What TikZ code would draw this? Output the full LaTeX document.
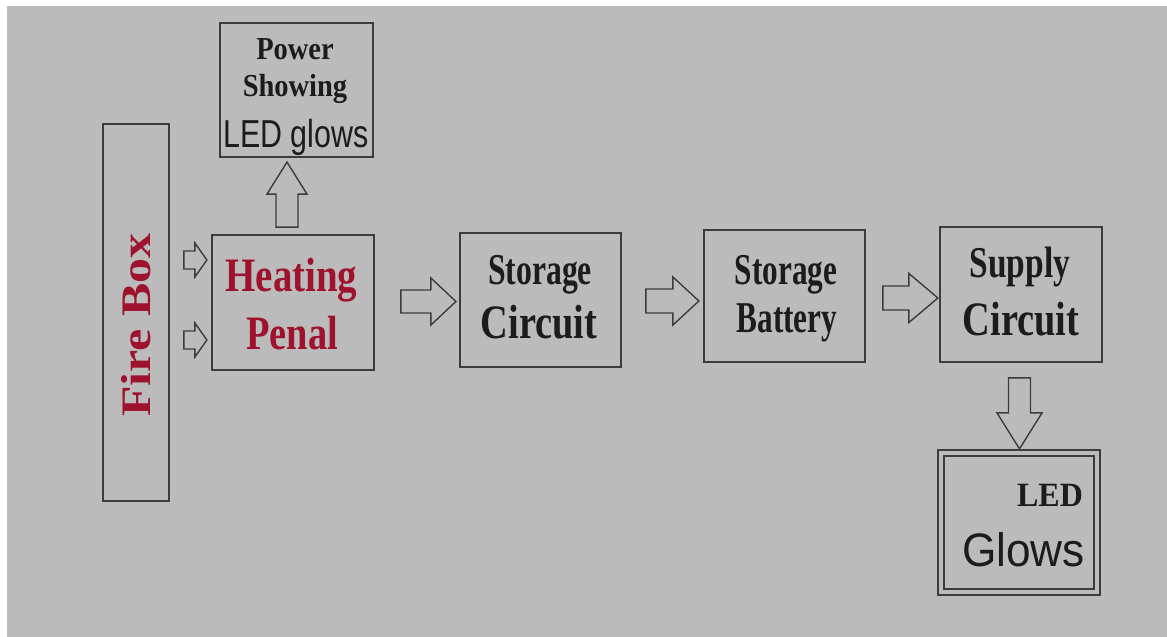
\documentclass[tikz,border=0pt]{standalone}
\usepackage{fontspec}
\setmainfont{Liberation Serif}
\newfontfamily\sansf{Liberation Sans}
\usepackage{graphicx}
\usetikzlibrary{calc}
\definecolor{bgc}{RGB}{187,187,187}
\definecolor{edge}{RGB}{60,60,60}
\definecolor{ink}{RGB}{28,28,28}
\definecolor{firered}{RGB}{158,18,45}
\newcommand{\fs}[1]{\fontsize{#1}{#1}\selectfont}
\newcommand{\sx}[2]{\scalebox{#1}[1]{#2}}
\tikzset{
  box/.style={draw=edge, line width=1.8pt, inner sep=0pt, fill=none},
  txt/.style={anchor=base, inner sep=0pt, text=ink, font=\bfseries},
  redtxt/.style={anchor=base, inner sep=0pt, text=firered, font=\bfseries},
  blk/.style={draw=edge, line width=1.4pt, line join=miter, fill=none},
}
\begin{document}
\begin{tikzpicture}[x=1pt,y=1pt]
\useasboundingbox (0,0) rectangle (1167,637);
\fill[bgc] (7,0) rectangle (1167,631);

% boxes
\node[box, minimum width=66pt, minimum height=377pt] (fire) at (136,324.5) {};
\node[box, minimum width=153pt, minimum height=134pt] (power) at (296.5,547) {};
\node[box, minimum width=162pt, minimum height=135pt] (heat) at (293,334.5) {};
\node[box, minimum width=161pt, minimum height=134pt] (stc) at (540.5,337) {};
\node[box, minimum width=161pt, minimum height=132pt] (stb) at (784.5,341) {};
\node[box, minimum width=162pt, minimum height=135pt] (sup) at (1021,342.5) {};
\node[box, minimum width=162pt, minimum height=145pt] (led) at (1019,114.5) {};
\node[draw=edge, line width=1.4pt, inner sep=0pt, minimum width=150pt, minimum height=133pt] (ledin) at (led.center) {};

% texts
\node[redtxt, anchor=center, rotate=90] (tfire) at (136,312) {\fs{42}\sx{1.19}{Fire Box}};
\node[txt] (tpow1) at (295,577) {\fs{32}\sx{0.89}{Power}};
\node[txt] (tpow2) at (295,540) {\fs{32}\sx{0.89}{Showing}};
\node[txt, font=\sansf] (tpow3) at (296,489) {\fs{39}\sx{0.78}{LED glows}};
\node[redtxt] (theat1) at (291.5,345) {\fs{48}\sx{0.81}{Heating}};
\node[redtxt] (theat2) at (292,287) {\fs{48}\sx{0.80}{Penal}};
\node[txt] (tstc1) at (540,352) {\fs{44}\sx{0.72}{Storage}};
\node[txt] (tstc2) at (539,298) {\fs{48}\sx{0.80}{Circuit}};
\node[txt] (tstb1) at (786,352) {\fs{44}\sx{0.71}{Storage}};
\node[txt] (tstb2) at (787,304) {\fs{44}\sx{0.71}{Battery}};
\node[txt] (tsup1) at (1020,359) {\fs{44}\sx{0.76}{Supply}};
\node[txt] (tsup2) at (1021,301) {\fs{48}\sx{0.80}{Circuit}};
\node[txt] (tled1) at (1050,130) {\fs{34}\sx{0.94}{LED}};
\node[txt, font=\sansf] (tled2) at (1023.5,70) {\fs{47}\sx{0.94}{Glows}};

% block arrows (connectors)
% fire -> heating (two small)
\draw[blk, shift={($(fire.east)+(14,52.5)$)}]
  (0,-9) -- (11,-9) -- (11,-17) -- (23,0) -- (11,17) -- (11,9) -- (0,9) -- cycle;
\draw[blk, shift={($(fire.east)+(14,-27.5)$)}]
  (0,-9) -- (11,-9) -- (11,-17) -- (23,0) -- (11,17) -- (11,9) -- (0,9) -- cycle;
% heating -> storage circuit
\draw[blk, shift={($(heat.east)+(26,1)$)}]
  (0,-11.5) -- (30,-11.5) -- (30,-23.5) -- (55,0) -- (30,23.5) -- (30,11.5) -- (0,11.5) -- cycle;
% storage circuit -> storage battery
\draw[blk, shift={($(stc.east)+(24,-1)$)}]
  (0,-12) -- (27,-12) -- (27,-24) -- (53,0) -- (27,24) -- (27,12) -- (0,12) -- cycle;
% storage battery -> supply circuit
\draw[blk, shift={($(stb.east)+(17,-2)$)}]
  (0,-12) -- (26,-12) -- (26,-24.5) -- (55,0) -- (26,24.5) -- (26,12) -- (0,12) -- cycle;
% heating -> power showing (up)
\draw[blk, shift={($(heat.north)+(-6,7)$)}]
  (-11,0) -- (-11,33) -- (-20,33) -- (0,65) -- (20,33) -- (11,33) -- (11,0) -- cycle;
% supply -> LED (down)
\draw[blk, shift={($(sup.south)+(-1.5,-15)$)}]
  (-11,0) -- (-11,-35) -- (-22.5,-35) -- (0,-71) -- (22.5,-35) -- (11,-35) -- (11,0) -- cycle;
\end{tikzpicture}
\end{document}
